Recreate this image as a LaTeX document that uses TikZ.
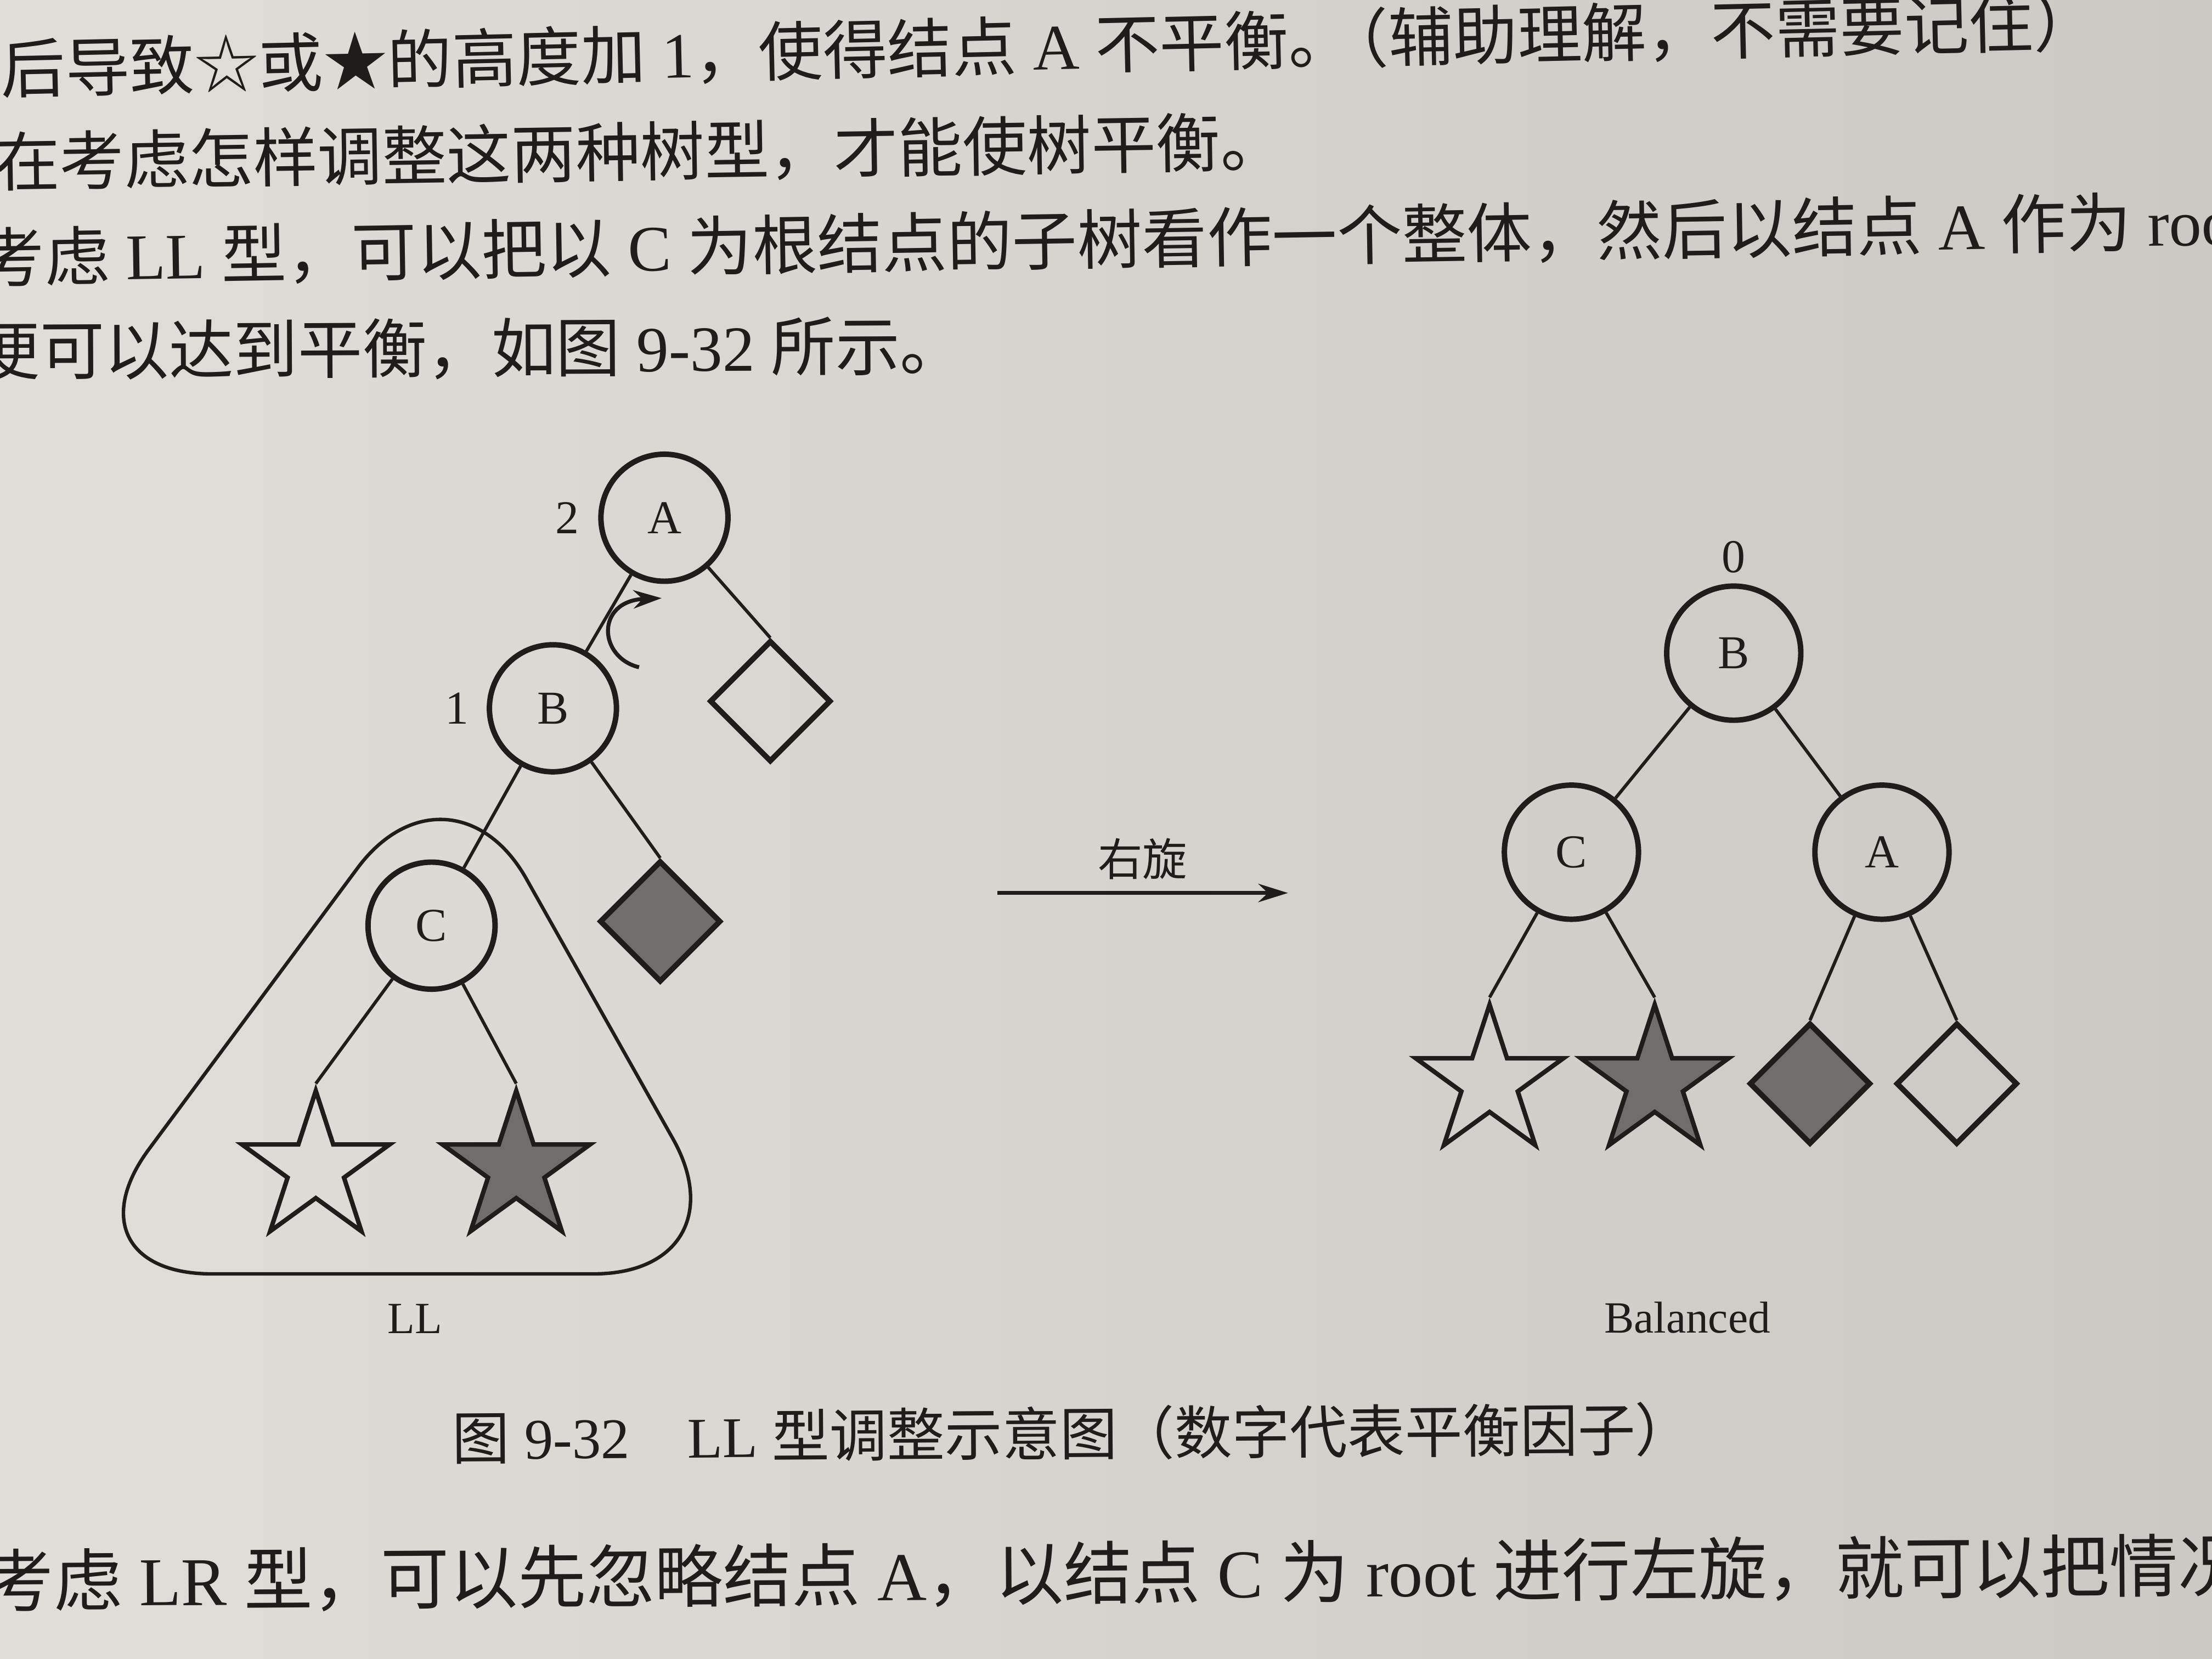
\documentclass[tikz,border=0pt]{standalone}
\usepackage{fontspec}
\setmainfont{Liberation Serif}
\newfontfamily\cjk{Noto Sans CJK SC}
\usepackage{xcolor}
\usepackage{tikz}
\usetikzlibrary{positioning,shapes.geometric,arrows.meta}
\definecolor{paperlight}{RGB}{224,222,217}
\definecolor{paperdark}{RGB}{203,201,196}
\definecolor{ink}{RGB}{30,29,28}
\definecolor{leafgray}{RGB}{112,110,107}
\tikzstyle{vertex} = [draw=ink, circle, line width=1.1pt, minimum size=0.9cm, inner sep=0pt, text=ink, font=\fontsize{9.5}{11}\selectfont]
\tikzstyle{leafstar} = [draw=ink, star, star points=5, star point ratio=2.618, line width=0.9pt, minimum size=1.1cm, inner sep=0pt]
\tikzstyle{leafbox} = [draw=ink, diamond, line width=1.1pt, minimum size=0.86cm, inner sep=0pt]
\tikzstyle{link} = [draw=ink, line width=0.65pt]
\tikzstyle{bf} = [inner sep=0pt, text=ink, font=\fontsize{9.5}{11}\selectfont]
\tikzstyle{bodytext} = [anchor=west, inner sep=0pt, text=ink, font=\fontsize{13}{15}\selectfont]

\begin{document}
\begin{tikzpicture}[x=0.01cm, y=-0.01cm, on grid]
		\useasboundingbox (0,0) rectangle (1568,1176);
		\clip (0,0) rectangle (1568,1176);
		\shade[left color=paperlight, right color=paperdark] (0,0) rectangle (1568,1176);

		% page text
		\node [bodytext, rotate=1.3] (line1) at (0,49) {{\cjk 后导致☆或★的高度加} 1{\cjk ，使得结点} A {\cjk 不平衡。\kern-0.45em（辅助理解，不需要记住）}};
		\node [bodytext, rotate=0.9] (line2) at (-4,115) {{\cjk 在考虑怎样调整这两种树型，才能使树平衡。}};
		\node [bodytext, rotate=0.95, font=\fontsize{13.1}{15}\selectfont] (line3) at (-15,183) {{\cjk 考虑} LL {\cjk 型，可以把以} C {\cjk 为根结点的子树看作一个整体，然后以结点} A {\cjk 作为} root};
		\node [bodytext, rotate=0.3] (line4) at (-18,249) {{\cjk 便可以达到平衡，如图} 9-32 {\cjk 所示。}};

		% before
		\node [vertex] (A) at (471,367) {A};
		\node [vertex, below left=1.35cm and 0.79cm of A] (B) {B};
		\node [leafbox, below right=1.30cm and 0.75cm of A] (dA) {};
		\node [vertex, below left=1.54cm and 0.86cm of B] (C) {C};
		\node [leafbox, fill=leafgray, below right=1.51cm and 0.76cm of B] (dB) {};
		\node [leafstar, below left=1.72cm and 0.82cm of C] (sC) {};
		\node [leafstar, fill=leafgray, below right=1.72cm and 0.60cm of C] (sCC) {};
		\node [bf, left=0.69cm of A] (fA) {2};
		\node [bf, left=0.68cm of B] (fB) {1};

		\draw [link] (A) -- (B);
		\draw [link] (A) -- (dA.north);
		\draw [link] (B) -- (C);
		\draw [link] (B) -- (dB.north);
		\draw [link] (C) -- (sC.north);
		\draw [link] (C) -- (sCC.north);

		\coordinate (rotS) at (453,473);
		\coordinate (rotE) at (469,424);
		\draw [link, line width=0.8pt, -{Stealth[length=2mm, width=1.3mm]}] (rotS) .. controls (424,466) and (422,426) .. (rotE);

		\draw [ink, line width=0.7pt, rounded corners=1.1cm] (319,527) -- (531,903) -- (40,903) -- cycle;
		\node [bf, font=\fontsize{9}{11}\selectfont] (capL) at (294,935) {LL};

		% rotation
		\coordinate (arrL) at (707,633);
		\coordinate (arrR) at (913,633);
		\draw [link, line width=0.8pt, -{Stealth[length=2.1mm, width=1.3mm]}] (arrL) -- node [bf, above=0.08cm, font=\cjk\fontsize{9}{11}\selectfont] {右旋} (arrR);

		% after
		\node [vertex, minimum size=0.95cm] (rB) at (1229,463) {B};
		\node [bf, above=0.68cm of rB] (frB) {0};
		\node [vertex, minimum size=0.95cm, below left=1.41cm and 1.15cm of rB] (rC) {C};
		\node [vertex, minimum size=0.95cm, below right=1.41cm and 1.05cm of rB] (rA) {A};
		\node [leafstar, below left=1.63cm and 0.58cm of rC] (rsC) {};
		\node [leafstar, fill=leafgray, below right=1.63cm and 0.59cm of rC] (rsCC) {};
		\node [leafbox, fill=leafgray, below left=1.64cm and 0.51cm of rA] (rdB) {};
		\node [leafbox, below right=1.64cm and 0.53cm of rA] (rdA) {};

		\draw [link] (rB) -- (rC);
		\draw [link] (rB) -- (rA);
		\draw [link] (rC) -- (rsC.north);
		\draw [link] (rC) -- (rsCC.north);
		\draw [link] (rA) -- (rdB.north);
		\draw [link] (rA) -- (rdA.north);
		\node [bf, font=\fontsize{9}{11}\selectfont] (capR) at (1196,934) {Balanced};

		% caption and text below
		\node [bodytext, font=\fontsize{11.6}{13}\selectfont, rotate=0.4] (caption) at (320,1019) {{\cjk 图} 9-32\quad LL {\cjk 型调整示意图（数字代表平衡因子）}};
		\node [bodytext, font=\fontsize{13.8}{16}\selectfont, rotate=0.4] (line5) at (-11,1121) {{\cjk 考虑} LR {\cjk 型，可以先忽略结点} A{\cjk ，以结点} C {\cjk 为} root {\cjk 进行左旋，就可以把情况}};
	\end{tikzpicture}
\end{document}
